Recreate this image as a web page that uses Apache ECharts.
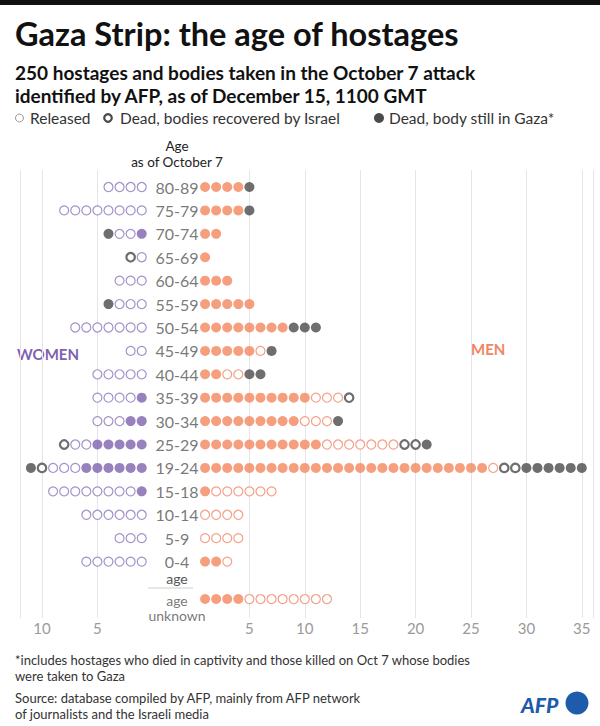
<!DOCTYPE html>
<html>
<head>
<meta charset="utf-8">
<script src="https://cdn.jsdelivr.net/npm/echarts@6/dist/echarts.min.js"></script>
<style>
html,body{margin:0;padding:0;background:#fff;}
#chart{width:600px;height:726px;}
</style>
</head>
<body>
<div id="chart"></div>
<script>
// ---------- DATA ----------
const ageGroups = ['80-89','75-79','70-74','65-69','60-64','55-59','50-54','45-49','40-44','35-39','30-34','25-29','19-24','15-18','10-14','5-9','0-4','age\nunknown'];

// Women (counted from the centre outwards: held, released, dead recovered, dead in Gaza)
const womenHeld      = [0,0,1,0,0,0,0,0,0,1,2,5,6,1,0,0,0,0];
const womenReleased  = [4,8,2,1,3,3,7,2,5,4,3,2,3,8,6,3,6,0];
const womenRecovered = [0,0,0,1,0,0,0,0,0,0,0,1,1,0,0,0,0,0];
const womenGaza      = [0,0,1,0,0,1,0,0,0,0,0,0,1,0,0,0,0,0];

// Men
const menHeld      = [4,4,2,1,3,5,8,5,2,10,9,11,26,1,0,0,2,4];
const menReleased  = [0,0,0,0,0,0,0,1,2,3,3,7,1,6,4,4,1,8];
const menRecovered = [0,0,0,0,0,0,0,0,0,1,0,2,2,0,0,0,0,0];
const menGaza      = [1,1,0,0,0,0,3,1,2,0,1,1,6,0,0,0,0,0];

const womenTicks = [5,10];
const menTicks = [5,10,15,20,25,30,35];

// ---------- LAYOUT / STYLE ----------
const FONT = 'Lato, "Noto Sans", sans-serif';
const UNKNOWN_POS = 17.6; // vertical position of the "age unknown" row (row units)
function rowPos(i){ return i < ageGroups.length - 1 ? i : UNKNOWN_POS; }

const PURPLE = '#7d62ae', PURPLE_OPEN = '#8d78bb';
const ORANGE = '#f4875e', ORANGE_OPEN = '#f08a6c';
const DARK = '#4a4a4a';

function dotsFor(lists, statusIdx){
  const out = [];
  const n = lists[0].length;
  for (let i = 0; i < n; i++){
    let start = 0;
    for (let s = 0; s < statusIdx; s++) start += lists[s][i];
    for (let k = 1; k <= lists[statusIdx][i]; k++) out.push([start + k, rowPos(i)]);
  }
  return out;
}

function sideSeries(lists, gridIdx, fill, openColor){
  const styles = [
    {symbolSize: 10, itemStyle: {color: fill}},
    {symbolSize: 9, itemStyle: {color: '#fff', borderColor: openColor, borderWidth: 1.2}},
    {symbolSize: 8.5, itemStyle: {color: '#fff', borderColor: DARK, borderWidth: 2.2}},
    {symbolSize: 10, itemStyle: {color: DARK}}
  ];
  const names = ['Held','Released','Dead, bodies recovered by Israel','Dead, body still in Gaza*'];
  return styles.map((st, s) => ({
    type: 'scatter',
    name: names[s],
    xAxisIndex: gridIdx, yAxisIndex: gridIdx,
    symbol: 'circle',
    symbolSize: st.symbolSize,
    itemStyle: st.itemStyle,
    silent: true,
    clip: false,
    data: dotsFor(lists, s)
  }));
}

const womenLists = [womenHeld, womenReleased, womenRecovered, womenGaza];
const menLists = [menHeld, menReleased, menRecovered, menGaza];

const PX_PER_UNIT = 11.08;
const LEFT_ZERO = 152.8, RIGHT_ZERO = 194;
const LEFT_MAX = 12, RIGHT_MAX = 36;
const GRID_TOP = 170, GRID_H = 448;
const Y_MIN = -0.7265, Y_MAX = 18.41;

const axisLabelStyle = {color: '#9a9a9a', fontSize: 15, fontFamily: FONT, margin: 2};
const splitLineStyle = {show: true, showMinLine: false, lineStyle: {color: '#e4e4ea', width: 1}};

const labelData = ageGroups.map((g, i) => ({
  value: [0, rowPos(i)],
  label: i === ageGroups.length - 1 ? {offset: [-17, 9], lineHeight: 15.5, fontSize: 14} : {}
}));

const chart = echarts.init(document.getElementById('chart'), null, {renderer: 'svg'});
chart.setOption({
  animation: false,
  backgroundColor: '#fff',
  grid: [
    {left: LEFT_ZERO - LEFT_MAX*PX_PER_UNIT, width: LEFT_MAX*PX_PER_UNIT, top: GRID_TOP, height: GRID_H},
    {left: RIGHT_ZERO, width: RIGHT_MAX*PX_PER_UNIT, top: GRID_TOP, height: GRID_H}
  ],
  xAxis: [
    {gridIndex: 0, type: 'value', min: 0, max: LEFT_MAX, interval: 5, inverse: true,
     axisLine: {show: false}, axisTick: {show: false}, splitLine: splitLineStyle,
     axisLabel: Object.assign({}, axisLabelStyle, {showMinLabel: false,
       formatter: v => womenTicks.includes(v) ? String(v) : ''})},
    {gridIndex: 1, type: 'value', min: 0, max: RIGHT_MAX, interval: 5,
     axisLine: {show: false}, axisTick: {show: false}, splitLine: splitLineStyle,
     axisLabel: Object.assign({}, axisLabelStyle, {showMinLabel: false,
       formatter: v => menTicks.includes(v) ? String(v) : ''})}
  ],
  yAxis: [
    {gridIndex: 0, type: 'value', min: Y_MIN, max: Y_MAX, inverse: true, show: false},
    {gridIndex: 1, type: 'value', min: Y_MIN, max: Y_MAX, inverse: true, show: false}
  ],
  series: [
    ...sideSeries(womenLists, 0, PURPLE, PURPLE_OPEN),
    ...sideSeries(menLists, 1, ORANGE, ORANGE_OPEN),
    {
      type: 'scatter', name: 'labels', xAxisIndex: 1, yAxisIndex: 1,
      symbolSize: 0, silent: true, clip: false,
      label: {show: true, position: 'left', distance: 0, align: 'center', offset: [-17, 0],
        color: '#555', fontSize: 16, fontFamily: FONT,
        formatter: p => ageGroups[p.dataIndex]},
      data: labelData
    }
  ],
  graphic: [
    {type: 'rect', shape: {x: 0, y: 0, width: 600, height: 5}, style: {fill: '#111'}},
    {type: 'text', x: 15, y: 33, style: {text: 'Gaza Strip: the age of hostages', fill: '#111',
      font: 'bold 32.5px ' + FONT, textVerticalAlign: 'middle'}},
    {type: 'text', x: 15, y: 72, style: {text: '250 hostages and bodies taken in the October 7 attack', fill: '#111',
      font: 'bold 19px ' + FONT, textVerticalAlign: 'middle'}},
    {type: 'text', x: 15, y: 95, style: {text: 'identified by AFP, as of December 15, 1100 GMT', fill: '#111',
      font: 'bold 19px ' + FONT, textVerticalAlign: 'middle'}},
    // legend
    {type: 'circle', shape: {cx: 19.5, cy: 118, r: 4}, style: {fill: '#fff', stroke: '#9a9a9a', lineWidth: 1}},
    {type: 'text', x: 30, y: 118, style: {text: 'Released', fill: '#333', font: '15.5px ' + FONT, textVerticalAlign: 'middle'}},
    {type: 'circle', shape: {cx: 108, cy: 118, r: 3.8}, style: {fill: '#fff', stroke: DARK, lineWidth: 2.2}},
    {type: 'text', x: 120, y: 118, style: {text: 'Dead, bodies recovered by Israel', fill: '#333', font: '15.5px ' + FONT, textVerticalAlign: 'middle'}},
    {type: 'circle', shape: {cx: 379, cy: 118, r: 5}, style: {fill: DARK}},
    {type: 'text', x: 389, y: 118, style: {text: 'Dead, body still in Gaza*', fill: '#333', font: '15.5px ' + FONT, textVerticalAlign: 'middle'}},
    // axis header
    {type: 'text', x: 177, y: 146, style: {text: 'Age', fill: '#222', font: '13.5px ' + FONT, textAlign: 'center', textVerticalAlign: 'middle'}},
    {type: 'text', x: 177, y: 162, style: {text: 'as of October 7', fill: '#222', font: '13.5px ' + FONT, textAlign: 'center', textVerticalAlign: 'middle'}},
    // side labels
    {type: 'text', x: 17, y: 354, style: {text: 'WOMEN', fill: '#7d62ae', font: 'bold 15px ' + FONT, textVerticalAlign: 'middle'}},
    {type: 'text', x: 471, y: 349, style: {text: 'MEN', fill: '#f08660', font: 'bold 15px ' + FONT, textVerticalAlign: 'middle'}},
    // "age" above separator + separator line
    {type: 'text', x: 177, y: 578, style: {text: 'age', fill: '#555', font: '14px ' + FONT, textAlign: 'center', textVerticalAlign: 'middle'}},
    {type: 'line', shape: {x1: 148, y1: 588, x2: 193, y2: 588}, style: {stroke: '#cfcfcf', lineWidth: 1}},
    // footnote & source
    {type: 'text', x: 15, y: 660, style: {text: '*includes hostages who died in captivity and those killed on Oct 7 whose bodies', fill: '#333', font: '13px ' + FONT, textVerticalAlign: 'middle'}},
    {type: 'text', x: 15, y: 676, style: {text: 'were taken to Gaza', fill: '#333', font: '13px ' + FONT, textVerticalAlign: 'middle'}},
    {type: 'text', x: 15, y: 698, style: {text: 'Source: database compiled by AFP, mainly from AFP network', fill: '#333', font: '13px ' + FONT, textVerticalAlign: 'middle'}},
    {type: 'text', x: 15, y: 714, style: {text: 'of journalists and the Israeli media', fill: '#333', font: '13px ' + FONT, textVerticalAlign: 'middle'}},
    // AFP logo
    {type: 'text', x: 521, y: 704, style: {text: 'AFP', fill: '#1d5bab', font: 'italic 900 21px ' + FONT, textVerticalAlign: 'middle'}},
    {type: 'circle', shape: {cx: 577, cy: 703, r: 11.5}, style: {fill: '#1d5bab'}}
  ]
});
</script>
</body>
</html>
